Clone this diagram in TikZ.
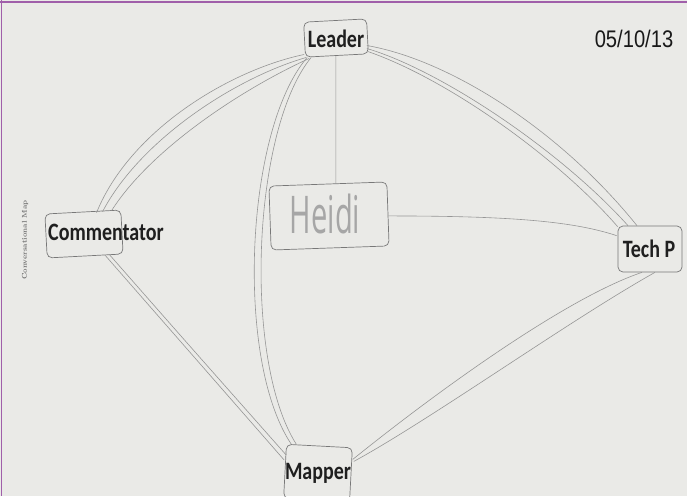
\documentclass[tikz,border=0pt]{standalone}
\usepackage{fontspec}
\newfontfamily\labelfont{Carlito}
\newfontfamily\datefont{Liberation Sans}
\newfontfamily\handfont{Open Sans}
\usetikzlibrary{calc}
\definecolor{paper}{RGB}{234,234,231}
\definecolor{pencil}{RGB}{150,150,150}
\definecolor{boxline}{RGB}{120,120,120}
\definecolor{frame}{RGB}{160,95,170}
\begin{document}
\begin{tikzpicture}[x=1pt,y=-1pt,
  pencil/.style={draw=pencil, line width=0.6pt},
  boxnode/.style={draw=boxline, line width=0.7pt, rounded corners=5pt, inner sep=0pt},
  lbl/.style={font=\labelfont\bfseries\fontsize{25}{25}\selectfont, text=black!88, inner sep=0pt, xscale=0.8},
]
\useasboundingbox (0,0) rectangle (687,496);
\begin{scope}
\clip (0,0) rectangle (687,496);
\fill[paper] (0,0) rectangle (687,496);
\draw[frame, line width=2pt] (0,1.5) -- (687,1.5);
\draw[frame, line width=1.6pt] (1.5,0) -- (1.5,496);

% boxes
\node[boxnode, minimum width=63pt, minimum height=35pt, rotate=3] (L) at (336,38) {};
\node[boxnode, minimum width=76pt, minimum height=44pt, rotate=3] (C) at (84,234) {};
\node[boxnode, minimum width=118pt, minimum height=64pt, rotate=2] (H) at (329,216) {};
\node[boxnode, minimum width=64pt, minimum height=46pt] (T) at (650,249) {};
\node[boxnode, minimum width=66pt, minimum height=54pt, rotate=-3] (M) at (318,473) {};

% labels
\node[lbl] (Ltxt) at (336,39) {Leader};
\node[lbl] (Ctxt) at (106,232) {Commentator};
\node[lbl] (Ttxt) at (649,249) {Tech P};
\node[lbl] (Mtxt) at (318,473) {Mapper};
\node[font=\handfont\fontsize{52}{52}\selectfont, text=pencil!85, inner sep=0pt, xscale=0.56] (Htxt) at (325,214) {Heidi};
\node[font=\datefont\fontsize{24}{24}\selectfont, inner sep=0pt, xscale=0.84, text=black!90] (date) at (634,39) {05/10/13};
\node[rotate=90, font=\bfseries\fontsize{7}{7}\selectfont, text=black!55, inner sep=0pt] (title) at (25,240) {Conversational Map};

% Leader -- Commentator
\draw[pencil] ($(L.south west)+(-1,-3)$) .. controls (230,70) and (130,130) .. ($(C.north west)+(52,-1)$);
\draw[pencil] ($(L.south west)+(1,0)$) .. controls (235,78) and (140,140) .. ($(C.north west)+(58,-2)$);
\draw[pencil] ($(L.south west)+(4,1)$) .. controls (240,90) and (150,150) .. ($(C.north west)+(67,-3)$);

% Leader -- Mapper
\draw[pencil] ($(L.south west)+(2,0)$) .. controls (245,130) and (235,360) .. ($(M.north west)+(5,0)$);
\draw[pencil] ($(L.south west)+(6,0)$) .. controls (252,130) and (243,360) .. ($(M.north west)+(10,0)$);

% Leader -- Heidi
\draw[pencil] ($(L.south)+(-1,0)$) -- ($(H.north)+(8,0)$);

% Leader -- Tech P
\draw[pencil] ($(L.north east)+(0,27)$) .. controls (450,60) and (560,130) .. ($(T.north)+(-13,0)$);
\draw[pencil] ($(L.north east)+(0,30)$) .. controls (440,70) and (560,150) .. ($(T.north)+(-22,0)$);
\draw[pencil] ($(L.north east)+(1,33)$) .. controls (450,80) and (560,160) .. ($(T.north west)+(0,1)$);

% Heidi -- Tech P
\draw[pencil] ($(H.east)+(0,2)$) .. controls (500,216) and (570,220) .. ($(T.north west)+(-1,10)$);

% Commentator -- Mapper
\draw[pencil] ($(C.south)+(20,-1)$) -- ($(M.north west)+(-2,16)$);
\draw[pencil] ($(C.south)+(24,-2)$) .. controls (180,335) .. ($(M.north west)+(0,11)$);

% Mapper -- Tech P
\draw[pencil] ($(M.north east)+(0,12)$) .. controls (420,405) and (560,300) .. ($(T.south)+(-8,0)$);
\draw[pencil] ($(M.north east)+(1,14)$) .. controls (430,420) and (570,320) .. ($(T.south)+(5,0)$);
\end{scope}
\end{tikzpicture}
\end{document}
